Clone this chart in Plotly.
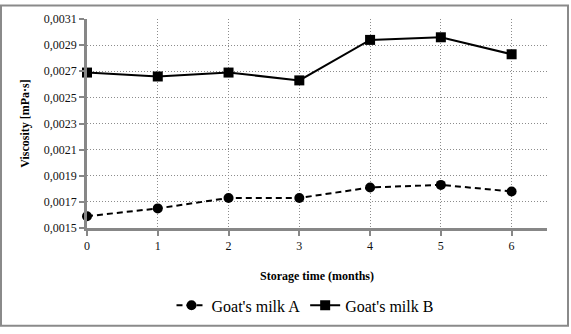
import plotly.graph_objects as go

months = [0, 1, 2, 3, 4, 5, 6]
milk_a = [0.00159, 0.00165, 0.00173, 0.00173, 0.00181, 0.00183, 0.00178]
milk_b = [0.00269, 0.00266, 0.00269, 0.00263, 0.00294, 0.00296, 0.00283]
series_names = ["Goat's milk A", "Goat's milk B"]

W, H = 571, 334
L, R, T, B = 87, 24, 15, 103
pw, ph = W - L - R, H - T - B
SERIF = "Times New Roman, Liberation Serif, serif"

fig = go.Figure()
fig.add_trace(go.Scatter(x=months, y=milk_a, name=series_names[0], mode="lines+markers",
                         line=dict(color="black", width=2, dash="6px,4px"),
                         marker=dict(symbol="circle", size=10, color="black"),
                         cliponaxis=False))
fig.add_trace(go.Scatter(x=months, y=milk_b, name=series_names[1], mode="lines+markers",
                         line=dict(color="black", width=2),
                         marker=dict(symbol="square", size=10, color="black"),
                         cliponaxis=False))

axis_font = dict(family=SERIF, size=12, color="#111111")
title_font = dict(family=SERIF, size=12, color="black")
fig.update_layout(
    width=W, height=H,
    margin=dict(l=L, r=R, t=T, b=B),
    paper_bgcolor="white", plot_bgcolor="white",
    separators=", ",
    font=dict(family=SERIF),
    showlegend=True,
    legend=dict(orientation="h", x=(305 - L) / pw, xanchor="center",
                y=(H - B - 311) / ph, yanchor="middle",
                font=dict(family=SERIF, size=16, color="black"),
                itemwidth=30, bgcolor="rgba(0,0,0,0)"),
    xaxis=dict(range=[0, 6.5], tickvals=months, ticktext=[str(m) for m in months],
               showline=True, linecolor="#878787", linewidth=2.5,
               ticks="outside", ticklen=5, tickcolor="#878787", tickwidth=2,
               showgrid=True, gridcolor="#8c8c8c", griddash="1px,2px", gridwidth=1,
               zeroline=False, tickfont=axis_font,
               title=dict(text="<b>Storage time (months)</b>", standoff=20, font=title_font)),
    yaxis=dict(range=[0.0015, 0.0031], tick0=0.0015, dtick=0.0002, tickformat=".4f",
               showline=True, linecolor="#878787", linewidth=2.5,
               ticks="outside", ticklen=5, tickcolor="#878787", tickwidth=2,
               showgrid=True, gridcolor="#8c8c8c", griddash="1px,2px", gridwidth=1,
               zeroline=False, tickfont=axis_font,
               title=dict(text="<b>Viscosity [mPa·s]</b>", standoff=12, font=title_font)),
)

# outer chart border
fig.add_shape(type="rect", xref="paper", yref="paper",
              x0=(1 - L) / pw, x1=(568 - L) / pw,
              y0=(H - B - 332) / ph, y1=(H - B - 1) / ph,
              line=dict(color="#8a8a8a", width=2), fillcolor="rgba(0,0,0,0)", layer="below")

fig.write_html("out.html")
